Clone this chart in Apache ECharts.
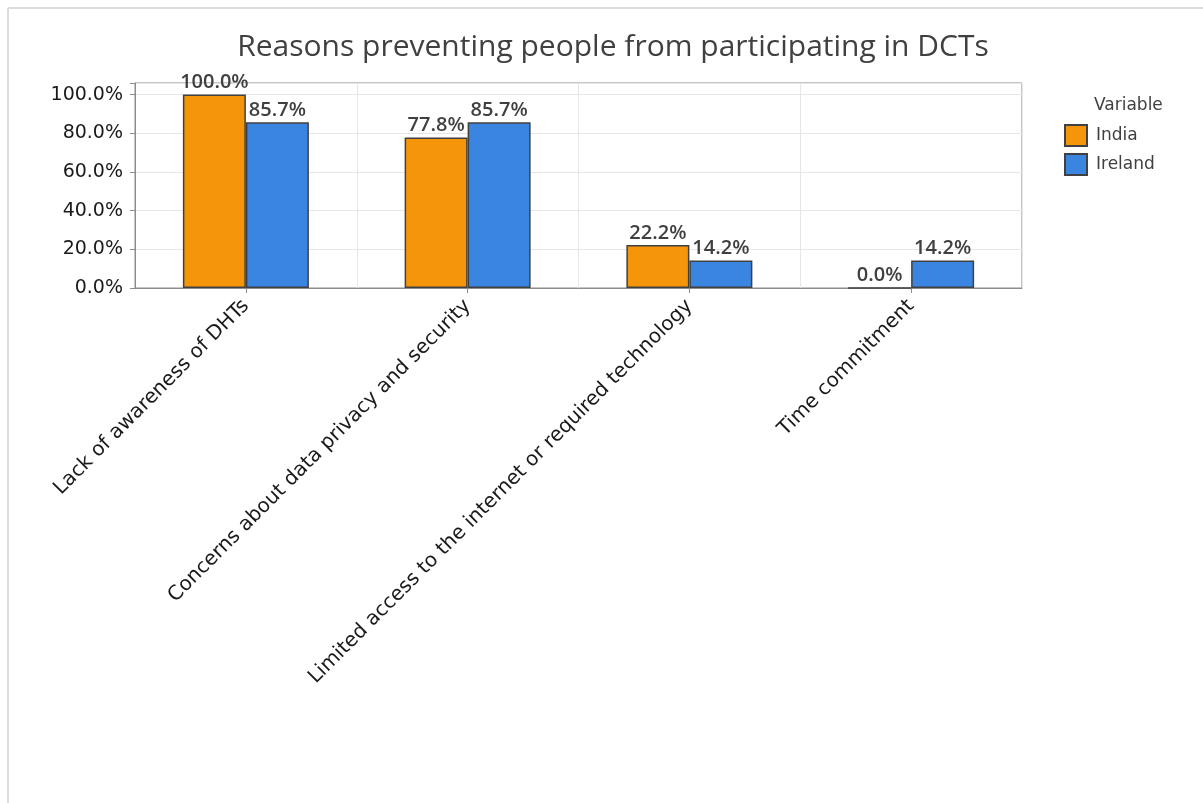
<!DOCTYPE html>
<html>
<head>
<meta charset="utf-8">
<script src="https://cdn.jsdelivr.net/npm/echarts@6/dist/echarts.min.js"></script>
<style>
  html, body { margin: 0; padding: 0; background: #fff; }
  #chart { width: 1203px; height: 803px; }
</style>
</head>
<body>
<div id="chart"></div>
<script>
// Reasons people gave for not taking part in decentralised clinical trials
const categories = [
  'Lack of awareness of DHTs',
  'Concerns about data privacy and security',
  'Limited access to the internet or required technology',
  'Time commitment'
];
const india = [100.0, 77.8, 22.2, 0.0];
const ireland = [85.7, 85.7, 14.2, 14.2];
const yTicks = [0, 20, 40, 60, 80, 100];

const TITLE_FONT = '"Open Sans", "Noto Sans", sans-serif';
const AXIS_FONT = '"DejaVu Sans", "Noto Sans", sans-serif';
const INDIA_COLOR = '#F5960A';
const IRELAND_COLOR = '#3A85E0';

const pct = v => Number(v).toFixed(1) + '%';

const barLabel = {
  show: true,
  position: 'top',
  distance: 2,
  fontFamily: TITLE_FONT,
  fontSize: 20,
  fontWeight: 600,
  color: '#404040',
  formatter: p => pct(p.value)
};

const chart = echarts.init(document.getElementById('chart'), null, { renderer: 'canvas' });

chart.setOption({
  backgroundColor: '#ffffff',
  animation: false,
  title: {
    text: 'Reasons preventing people from participating in DCTs',
    left: 608,
    textAlign: 'center',
    top: 27,
    textStyle: { fontFamily: TITLE_FONT, fontSize: 30, fontWeight: 500, color: '#404040' }
  },
  legend: {
    data: ['India', 'Ireland'],
    orient: 'vertical',
    left: 1059,
    top: 119,
    itemWidth: 22,
    itemHeight: 21,
    itemGap: 6,
    icon: 'rect',
    textStyle: { fontFamily: AXIS_FONT, fontSize: 17, color: '#404040', padding: [0, 0, 0, 4] }
  },
  graphic: [
    { type: 'line', shape: { x1: 8, y1: 8, x2: 1203, y2: 8 }, style: { stroke: '#dcdcdc', lineWidth: 2 } },
    { type: 'line', shape: { x1: 8, y1: 8, x2: 8, y2: 803 }, style: { stroke: '#dcdcdc', lineWidth: 2 } },
    { type: 'text', left: 1094, top: 97, style: { text: 'Variable', fontFamily: AXIS_FONT, fontSize: 17, fill: '#404040' } }
  ],
  grid: { left: 135, right: 181, top: 83, bottom: 515, show: true, borderColor: '#8c8c8c', borderWidth: 1 },
  xAxis: {
    type: 'category',
    data: categories,
    boundaryGap: true,
    axisLine: { show: true, lineStyle: { color: '#8c8c8c' } },
    axisTick: { show: true, alignWithLabel: true, length: 5, lineStyle: { color: '#8c8c8c' } },
    splitLine: { show: true, interval: 0, lineStyle: { color: '#e6e6e6' } },
    axisLabel: {
      interval: 0,
      rotate: 45,
      margin: 15,
      fontFamily: AXIS_FONT,
      fontSize: 20,
      color: '#1a1a1a'
    }
  },
  yAxis: {
    type: 'value',
    min: 0,
    max: 106,
    interval: 20,
    axisLine: { show: true, lineStyle: { color: '#8c8c8c' } },
    axisTick: { show: true, length: 5, lineStyle: { color: '#8c8c8c' } },
    splitLine: { show: true, lineStyle: { color: '#e6e6e6' } },
    axisLabel: {
      margin: 12,
      fontFamily: AXIS_FONT,
      fontSize: 19,
      color: '#1a1a1a',
      formatter: v => (yTicks.includes(v) ? pct(v) : '')
    }
  },
  series: [
    {
      name: 'India',
      type: 'bar',
      data: india,
      barWidth: 63,
      barGap: '0%',
      itemStyle: { color: INDIA_COLOR, borderColor: '#404040', borderWidth: 1.5 },
      label: barLabel
    },
    {
      name: 'Ireland',
      type: 'bar',
      data: ireland,
      barWidth: 63,
      barGap: '0%',
      itemStyle: { color: IRELAND_COLOR, borderColor: '#404040', borderWidth: 1.5 },
      label: barLabel
    }
  ]
});
</script>
</body>
</html>
